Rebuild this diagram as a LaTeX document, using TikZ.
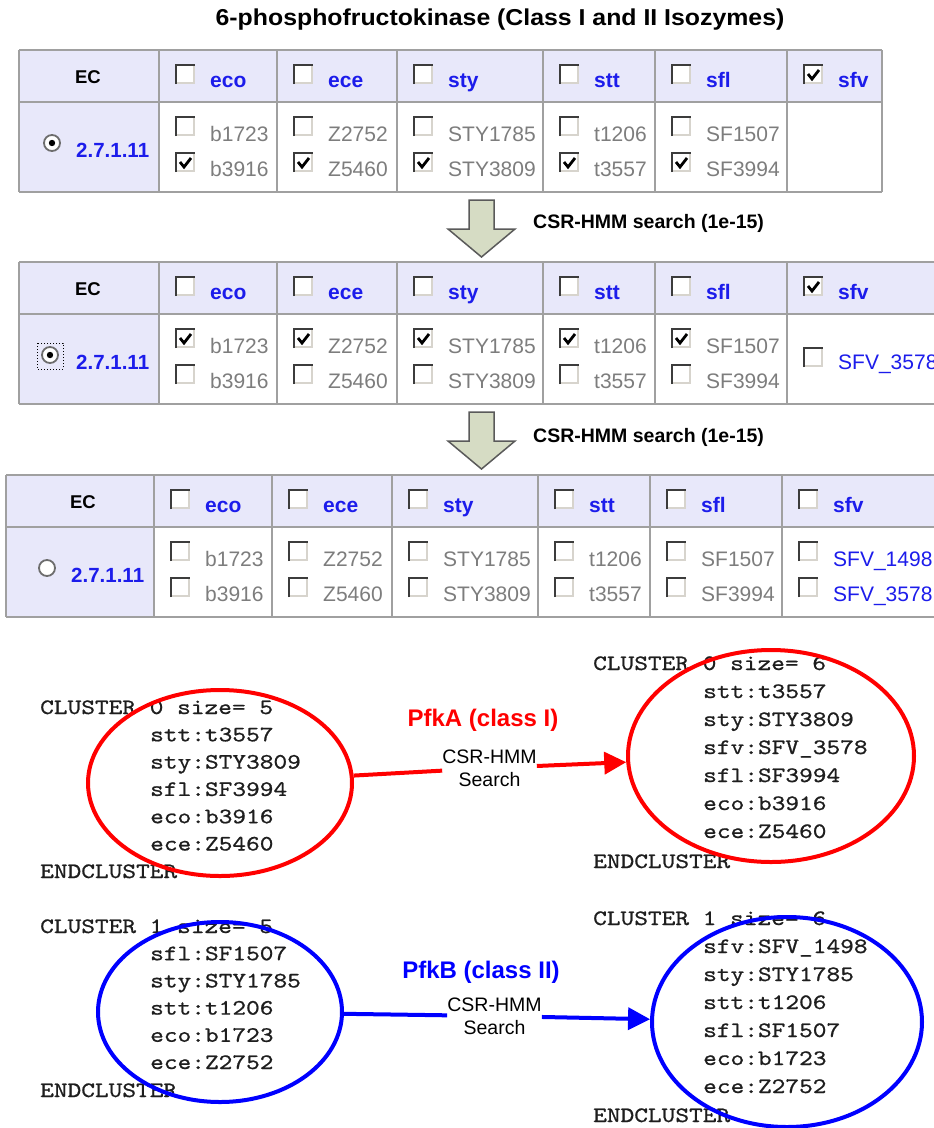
\documentclass[tikz,border=0pt]{standalone}
\usepackage{fontspec}
\setmainfont{Liberation Sans}
\newfontfamily\titlef[FakeStretch=1.08]{Liberation Sans}
\newfontfamily\courf[FakeStretch=1.186,FakeBold=0.8]{lmmono10-regular.otf}
\usetikzlibrary{shapes.geometric,arrows.meta}
\definecolor{lav}{RGB}{232,232,250}
\definecolor{lnk}{RGB}{28,28,235}
\definecolor{gtx}{RGB}{125,125,125}
\definecolor{gridc}{RGB}{160,160,160}
\definecolor{sage}{RGB}{214,220,196}
\definecolor{arrgray}{RGB}{90,90,90}
\definecolor{pfkred}{RGB}{255,0,0}
\definecolor{pfkblue}{RGB}{0,0,255}
\definecolor{cbdark}{RGB}{60,60,60}
\definecolor{cblight}{RGB}{215,212,205}
\definecolor{monoc}{RGB}{30,30,30}
% checkbox: x, y(top), checked
\newcommand\mycb[3]{%
  \fill[white] (#1,#2) rectangle (#1+20,#2+20);
  \draw[cbdark,line width=2.5pt] (#1+1.2,#2+20) -- (#1+1.2,#2+1.2) -- (#1+20,#2+1.2);
  \draw[cblight,line width=1.5pt] (#1+19.2,#2+2) -- (#1+19.2,#2+19.2) -- (#1+2,#2+19.2);
  \ifnum#3=1 \draw[black,line width=2.8pt] (#1+5,#2+10) -- (#1+9,#2+15) -- (#1+16,#2+6);\fi}
% radio: x, y, selected
\newcommand\myradio[3]{%
  \fill[white] (#1,#2) circle (8pt);
  \draw[cbdark!75,line width=1.8pt] (#1,#2) circle (8pt);
  \ifnum#3=1 \fill[black] (#1,#2) circle (3.2pt);\fi}
% table: y offset, left, dx (+0/-5), right, sfv header checked, top row checked, bottom row checked
\newcommand\mytable[7]{%
  \fill[lav] (#2,50+#1) rectangle (#4,102+#1);
  \fill[lav] (#2,102+#1) rectangle (159#3,192+#1);
  \fill[white] (159#3,102+#1) rectangle (#4,192+#1);
  \foreach \yy in {50,102,192} \draw[gridln] (#2,\yy+#1) -- (#4,\yy+#1);
  \foreach \xx in {159,277,397,543,655,787} \draw[gridln] (\xx#3,50+#1) -- (\xx#3,192+#1);
  \draw[gridln] (#2,50+#1) -- (#2,192+#1);
  \node[ectxt] (ec#1) at (88#3,77+#1) {EC};
  \foreach \c/\hn/\ga/\gb in {159/eco/b1723/b3916,277/ece/Z2752/Z5460,397/sty/STY1785/STY3809,543/stt/t1206/t3557,655/sfl/SF1507/SF3994}{%
    \mycb{\c#3+16}{64+#1}{0}
    \node[hdrtxt] (h#1\hn) at (\c#3+51,87+#1) {\hn};
    \mycb{\c#3+16}{116+#1}{#6}
    \node[genetxt] (g#1\ga) at (\c#3+51,141+#1) {\ga};
    \mycb{\c#3+16}{152+#1}{#7}
    \node[genetxt] (g#1\gb) at (\c#3+51,176+#1) {\gb};
  }
  \mycb{787#3+16}{64+#1}{#5}
  \node[hdrtxt] (h#1sfv) at (787#3+51,87+#1) {sfv};
}
% block arrow: y offset
\newcommand\myblockarrow[1]{%
  \draw[fill=sage,draw=arrgray,line width=1.5pt,line join=miter]
    (469,200+#1) -- (494,200+#1) -- (494,229+#1) -- (515,229+#1) -- (481.5,257+#1)
    -- (448,229+#1) -- (469,229+#1) -- cycle;}
\begin{document}
\begin{tikzpicture}[x=1pt,y=-1pt,
  gridln/.style={draw=gridc,line width=2.5pt},
  genetxt/.style={font=\fontsize{21}{25}\selectfont,text=gtx,inner sep=0pt,anchor=base west},
  hdrtxt/.style={font=\bfseries\fontsize{21}{25}\selectfont,text=lnk,inner sep=0pt,anchor=base west},
  ectxt/.style={font=\bfseries\fontsize{18.5}{22}\selectfont,inner sep=0pt},
  ecnum/.style={font=\bfseries\fontsize{20.5}{24}\selectfont,text=lnk,inner sep=0pt,anchor=base west},
  sfvtxt/.style={font=\fontsize{21}{25}\selectfont,text=lnk,inner sep=0pt,anchor=base west},
  titletxt/.style={font=\titlef\bfseries\fontsize{23}{27}\selectfont,inner sep=0pt},
  arrtxt/.style={font=\bfseries\fontsize{19.5}{23}\selectfont,inner sep=0pt,anchor=west},
  monotxt/.style={font=\courf\fontsize{22}{26}\selectfont,text=monoc,inner sep=0pt,anchor=base west},
  pfklabel/.style={font=\bfseries\fontsize{24}{28}\selectfont,inner sep=0pt},
  srchlabel/.style={font=\fontsize{19.5}{23}\selectfont,align=center,inner sep=0pt},
  redell/.style={ellipse,draw=pfkred,line width=4pt,inner sep=0pt},
  blueell/.style={ellipse,draw=pfkblue,line width=4pt,inner sep=0pt},
  redln/.style={draw=pfkred,line width=4pt},
  blueln/.style={draw=pfkblue,line width=4pt},
  tip/.style={-{Triangle[length=22pt,width=22pt]}}
]
\useasboundingbox (0,0) rectangle (934,1128);
\fill[white] (0,0) rectangle (934,1128);

% title
\node[titletxt] (title) at (500,20) {6-phosphofructokinase (Class I and II Isozymes)};

% table 1
\mytable{0}{19}{+0}{882}{1}{0}{1}
\draw[gridln] (882,50) -- (882,192);
\myradio{52}{143}{1}
\node[ecnum] (n0) at (76,157.5) {2.7.1.11};

% arrow 1
\myblockarrow{0}
\node[arrtxt] (a1) at (533,223) {CSR-HMM search (1e-15)};

% table 2
\mytable{212}{19}{+0}{940}{1}{1}{0}
\myradio{50}{355}{1}
\draw[black,line width=1pt,dotted] (37,343) rectangle (63,369);
\node[ecnum] (n1) at (76,369.5) {2.7.1.11};
\mycb{803}{347}{0}
\node[sfvtxt] (s212) at (838,369.5) {SFV\_3578};

% arrow 2
\myblockarrow{212}
\node[arrtxt] (a2) at (533,437) {CSR-HMM search (1e-15)};

% table 3
\mytable{425}{6}{-5}{940}{0}{0}{0}
\myradio{47}{568}{0}
\node[ecnum] (n2) at (71,582.5) {2.7.1.11};
\mycb{798}{541}{0}
\node[sfvtxt] (s425a) at (833,566) {SFV\_1498};
\mycb{798}{577}{0}
\node[sfvtxt] (s425b) at (833,601) {SFV\_3578};

% clusters (text)
\node[monotxt] (L0h) at (40,714) {CLUSTER 0 size= 5};
\foreach \t [count=\i] in {stt:t3557,sty:STY3809,sfl:SF3994,eco:b3916,ece:Z5460}
  \node[monotxt] (L0m\i) at (150,714+27.3*\i) {\t};
\node[monotxt] (L0e) at (40,878) {ENDCLUSTER};

\node[monotxt] (R0h) at (593,670) {CLUSTER 0 size= 6};
\foreach \t [count=\i] in {stt:t3557,sty:STY3809,sfv:SFV\_3578,sfl:SF3994,eco:b3916,ece:Z5460}
  \node[monotxt] (R0m\i) at (703,670+28*\i) {\t};
\node[monotxt] (R0e) at (593,868) {ENDCLUSTER};

\node[monotxt] (L1h) at (40,933) {CLUSTER 1 size= 5};
\foreach \t [count=\i] in {sfl:SF1507,sty:STY1785,stt:t1206,eco:b1723,ece:Z2752}
  \node[monotxt] (L1m\i) at (150,933+27.2*\i) {\t};
\node[monotxt] (L1e) at (40,1097) {ENDCLUSTER};

\node[monotxt] (R1h) at (593,925) {CLUSTER 1 size= 6};
\foreach \t [count=\i] in {sfv:SFV\_1498,sty:STY1785,stt:t1206,sfl:SF1507,eco:b1723,ece:Z2752}
  \node[monotxt] (R1m\i) at (703,925+28*\i) {\t};
\node[monotxt] (R1e) at (593,1122) {ENDCLUSTER};

% ellipses
\node[redell,minimum width=264pt,minimum height=186pt] (e1) at (220,783) {};
\node[redell,minimum width=286pt,minimum height=212pt] (e2) at (771,756) {};
\node[blueell,minimum width=244pt,minimum height=180pt] (e3) at (220,1012) {};
\node[blueell,minimum width=270pt,minimum height=210pt] (e4) at (787,1022) {};

% labels
\node[pfklabel,text=pfkred] (pa) at (483,720) {PfkA (class I)};
\node[pfklabel,text=pfkblue] (pb) at (481,972) {PfkB (class II)};
\node[srchlabel] (q1) at (489.5,768) {CSR-HMM\\Search};
\node[srchlabel] (q2) at (494.5,1016) {CSR-HMM\\Search};

% connectors
\draw[redln] (e1) -- (q1);
\draw[redln,tip] (q1) -- (e2);
\draw[blueln] (e3) -- (q2);
\draw[blueln,tip] (q2) -- (e4);
\end{tikzpicture}
\end{document}
